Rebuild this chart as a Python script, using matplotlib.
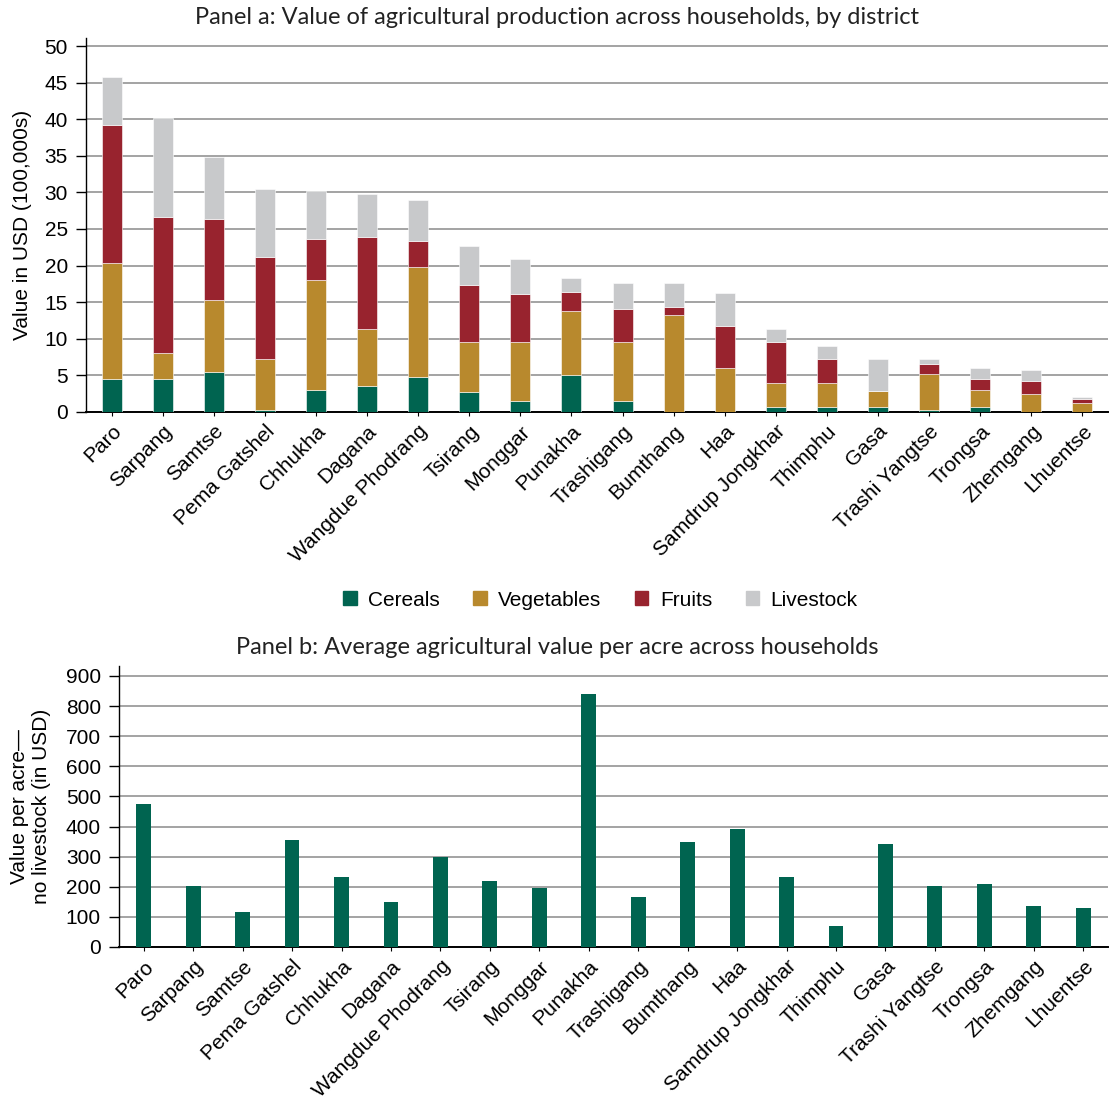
import numpy as np
import matplotlib.pyplot as plt
from matplotlib.patches import Patch

districts = ["Paro", "Sarpang", "Samtse", "Pema Gatshel", "Chhukha", "Dagana",
             "Wangdue Phodrang", "Tsirang", "Monggar", "Punakha", "Trashigang",
             "Bumthang", "Haa", "Samdrup Jongkhar", "Thimphu", "Gasa",
             "Trashi Yangtse", "Trongsa", "Zhemgang", "Lhuentse"]

# stacked components, 100,000s USD
cereals = [4.5, 4.5, 5.4, 0.3, 3.0, 3.55, 4.8, 2.7, 1.5, 5.05,
           1.5, 0.0, 0.0, 0.64, 0.64, 0.64, 0.27, 0.64, 0.0, 0.0]
vegetables = [15.85, 3.6, 9.85, 6.9, 15.0, 7.85, 15.0, 6.9, 8.1, 8.7,
              8.1, 13.2, 6.0, 3.26, 3.26, 2.16, 4.88, 2.41, 2.4, 1.2]
fruits = [18.85, 18.5, 11.05, 14.0, 5.6, 12.5, 3.5, 7.7, 6.5, 2.65,
          4.4, 1.15, 5.7, 5.65, 3.3, 0.0, 1.45, 1.41, 1.8, 0.6]
livestock = [6.5, 13.5, 8.6, 9.3, 6.6, 5.9, 5.7, 5.4, 4.85, 1.86,
             3.6, 3.25, 4.5, 1.85, 1.8, 4.4, 0.6, 1.54, 1.5, 0.3]

# value per acre, no livestock (USD)
per_acre = [474, 203, 115, 356, 232, 151, 298, 218, 196, 840,
            166, 348, 392, 232, 71, 343, 203, 210, 137, 130]

c_cer = "#006450"
c_veg = "#b8892d"
c_fru = "#98232e"
c_liv = "#c8c9cb"
grid_c = "#a3a3a3"

plt.rcParams['font.family'] = ['Liberation Sans', 'DejaVu Sans']
title_font = ['Lato', 'DejaVu Sans']

fig = plt.figure(figsize=(11.14, 11.0), dpi=100)
ax1 = fig.add_axes([0.0772, 0.6255, 0.9174, 0.34])
ax2 = fig.add_axes([0.1068, 0.1391, 0.8878, 0.2554])

x = np.arange(len(districts))

# Panel a
bottom = np.zeros(len(districts))
for vals, col, lab in [(cereals, c_cer, "Cereals"), (vegetables, c_veg, "Vegetables"),
                       (fruits, c_fru, "Fruits"), (livestock, c_liv, "Livestock")]:
    ax1.bar(x, vals, 0.39, bottom=bottom, color=col, label=lab, zorder=3,
            edgecolor="white", linewidth=0.4)
    bottom += np.array(vals)

ax1.set_xlim(-0.5, 19.5)
ax1.set_ylim(0, 51.1)
ax1.set_yticks(np.arange(0, 51, 5))
ax1.set_ylabel("Value in USD (100,000s)", fontsize=15, labelpad=9)
fig.text(0.5, 1 - 17 / 1100, "Panel a: Value of agricultural production across households, by district",
         fontsize=17, family=title_font, ha="center", va="center", color="#222222")

# Panel b
ax2.bar(x, per_acre, 0.3, color=c_cer, zorder=3)
ax2.set_xlim(-0.5, 19.5)
ax2.set_ylim(0, 933)
ax2.set_yticks(np.arange(0, 901, 100))
ax2.set_ylabel("Value per acre\u2014\nno livestock (in USD)", fontsize=15, labelpad=11)
fig.text(0.5, 1 - 647 / 1100, "Panel b: Average agricultural value per acre across households",
         fontsize=17, family=title_font, ha="center", va="center", color="#222222")

for ax in (ax1, ax2):
    ax.set_xticks(x)
    ax.set_xticklabels(districts, rotation=45, ha="right", rotation_mode="anchor",
                       fontsize=15)
    ax.tick_params(axis="y", labelsize=15, length=7, width=1, direction="out", pad=6)
    ax.tick_params(axis="x", length=3, width=0.8, pad=4)
    ax.yaxis.grid(True, color=grid_c, linewidth=1.4, zorder=0)
    ax.set_axisbelow(True)
    for s in ("top", "right"):
        ax.spines[s].set_visible(False)
    ax.spines["left"].set_linewidth(1.0)
    ax.spines["bottom"].set_linewidth(1.4)

handles = [Patch(color=c_cer, label="Cereals"), Patch(color=c_veg, label="Vegetables"),
           Patch(color=c_fru, label="Fruits"), Patch(color=c_liv, label="Livestock")]
fig.legend(handles=handles, loc="center", bbox_to_anchor=(0.539, 0.4545), ncol=4,
           frameon=False, fontsize=15, handlelength=0.65, handleheight=0.65,
           handletextpad=0.55, columnspacing=1.6)

fig.savefig("out.png", dpi=100)
